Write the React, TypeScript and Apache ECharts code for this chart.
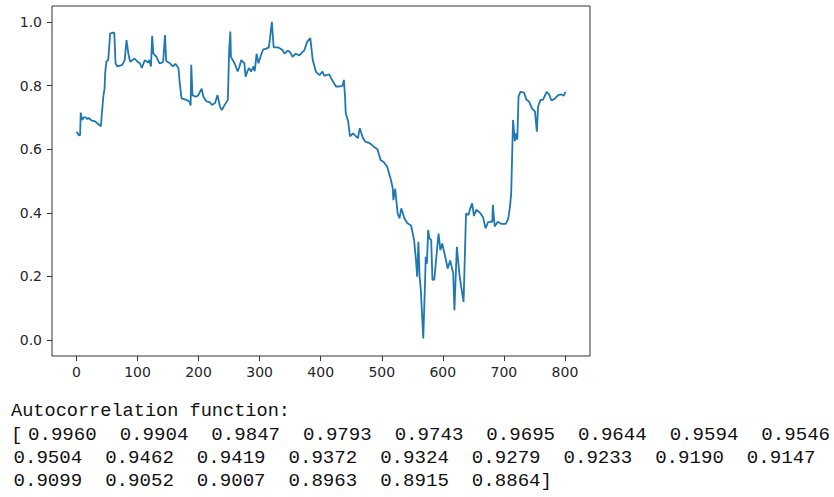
import React, { useEffect, useRef } from "react";
import * as echarts from "echarts";

// sample positions (x index) and normalised values
const sampleIndex = [
  0, 2, 4, 6, 7, 9, 12, 15, 18, 20, 25, 30, 35, 40, 42, 44, 46, 47, 49, 52, 54, 55, 60, 62, 64, 67, 70, 75, 79, 82,
  85, 88, 92, 95, 100, 104, 107, 110, 112, 117, 119, 122, 124, 126, 131, 136, 140, 142, 145, 147, 153, 158, 162, 167,
  169, 172, 180, 185, 187, 188, 190, 195, 199, 205, 208, 213, 218, 222, 227, 231, 235, 238, 243, 248, 250, 252, 253,
  256, 259, 264, 267, 270, 275, 277, 280, 283, 286, 290, 292, 295, 298, 303, 306, 311, 315, 317, 320, 323, 330, 335,
  338, 341, 346, 350, 354, 359, 365, 370, 373, 378, 383, 387, 392, 398, 403, 406, 409, 414, 417, 421, 425, 431, 436,
  438, 440, 441, 445, 448, 453, 458, 461, 464, 469, 473, 479, 483, 487, 493, 498, 503, 509, 515, 518, 519, 522, 526,
  529, 532, 537, 542, 548, 553, 556, 558, 560, 562, 564, 568, 571, 572, 574, 576, 578, 581, 583, 586, 590, 593, 596,
  599, 603, 608, 612, 617, 619, 623, 627, 630, 634, 638, 642, 645, 648, 651, 655, 661, 666, 670, 674, 677, 681, 682,
  685, 690, 696, 703, 707, 710, 712, 715, 718, 720, 722, 724, 727, 733, 737, 741, 746, 751, 754, 756, 760, 764, 770,
  774, 778, 783, 789, 794, 798, 801,
];
const seriesValues = [
  0.655, 0.65, 0.643, 0.645, 0.715, 0.692, 0.7, 0.7, 0.695, 0.698, 0.69, 0.688, 0.68, 0.672, 0.72, 0.765, 0.79, 0.838,
  0.875, 0.88, 0.93, 0.963, 0.966, 0.966, 0.87, 0.86, 0.862, 0.865, 0.88, 0.943, 0.9, 0.875, 0.88, 0.885, 0.875, 0.87,
  0.855, 0.87, 0.88, 0.872, 0.88, 0.86, 0.956, 0.9, 0.89, 0.87, 0.872, 0.875, 0.959, 0.877, 0.87, 0.86, 0.868, 0.855,
  0.812, 0.76, 0.755, 0.75, 0.737, 0.865, 0.77, 0.765, 0.768, 0.79, 0.765, 0.75, 0.748, 0.739, 0.745, 0.77, 0.734,
  0.723, 0.74, 0.755, 0.907, 0.97, 0.89, 0.88, 0.87, 0.844, 0.86, 0.88, 0.87, 0.828, 0.845, 0.855, 0.844, 0.86, 0.845,
  0.9, 0.87, 0.9, 0.914, 0.916, 0.92, 0.949, 1.0, 0.92, 0.92, 0.915, 0.91, 0.9, 0.91, 0.905, 0.89, 0.9, 0.895, 0.905,
  0.91, 0.938, 0.949, 0.88, 0.844, 0.833, 0.844, 0.83, 0.833, 0.835, 0.823, 0.81, 0.797, 0.797, 0.8, 0.818, 0.76,
  0.713, 0.687, 0.64, 0.65, 0.64, 0.635, 0.666, 0.636, 0.624, 0.62, 0.615, 0.608, 0.6, 0.566, 0.56, 0.545, 0.503,
  0.477, 0.44, 0.475, 0.398, 0.383, 0.414, 0.383, 0.367, 0.36, 0.314, 0.252, 0.199, 0.309, 0.199, 0.157, 0.005, 0.189,
  0.262, 0.24, 0.346, 0.32, 0.314, 0.189, 0.19, 0.273, 0.335, 0.283, 0.304, 0.27, 0.225, 0.25, 0.21, 0.094, 0.293,
  0.21, 0.168, 0.12, 0.398, 0.393, 0.414, 0.43, 0.39, 0.41, 0.4, 0.385, 0.351, 0.37, 0.372, 0.372, 0.425, 0.357, 0.372,
  0.365, 0.365, 0.38, 0.419, 0.461, 0.692, 0.625, 0.65, 0.63, 0.765, 0.78, 0.778, 0.755, 0.75, 0.728, 0.718, 0.655,
  0.734, 0.755, 0.755, 0.78, 0.772, 0.753, 0.758, 0.77, 0.772, 0.768, 0.78,
];

const xTicks = [0, 100, 200, 300, 400, 500, 600, 700, 800];
const yTicks = [0.0, 0.2, 0.4, 0.6, 0.8, 1.0];

const outputTitle = "Autocorrelation function:";
const acfValues = [
  "0.9960", "0.9904", "0.9847", "0.9793", "0.9743", "0.9695", "0.9644", "0.9594", "0.9546",
  "0.9504", "0.9462", "0.9419", "0.9372", "0.9324", "0.9279", "0.9233", "0.9190", "0.9147",
  "0.9099", "0.9052", "0.9007", "0.8963", "0.8915", "0.8864",
];

export default function App() {
  const ref = useRef<HTMLDivElement>(null);
  useEffect(() => {
    document.body.style.margin = "0";
    const chart = echarts.init(ref.current!, null, { renderer: "svg" });
    const data = sampleIndex.map((x, i) => [x, seriesValues[i]]);
    const xLo = Math.min(...sampleIndex);
    const xHi = Math.max(...sampleIndex);
    const pad = (xHi - xLo) * 0.05;

    const monoTitle = '18.6px "Liberation Mono", "DejaVu Sans Mono", monospace';
    const mono = '19.1px "Liberation Mono", "DejaVu Sans Mono", monospace';
    const row1 = acfValues.slice(0, 9).join("  ");
    const row2 = acfValues.slice(9, 18).join("  ");
    const row3 = acfValues.slice(18).join("  ") + "]";

    chart.setOption({
      animation: false,
      backgroundColor: "#fff",
      grid: {
        left: 52,
        top: 6,
        width: 538,
        height: 350,
        show: true,
        borderColor: "#333",
        borderWidth: 1,
        containLabel: false,
      },
      xAxis: {
        type: "value",
        min: xLo - pad,
        max: xHi + pad,
        splitLine: { show: false },
        axisLine: { show: false, onZero: false },
        axisTick: { show: true, length: 5, lineStyle: { color: "#333" }, customValues: xTicks },
        axisLabel: {
          customValues: xTicks,
          margin: 9,
          color: "#262626",
          fontFamily: "DejaVu Sans",
          fontSize: 14,
          formatter: (v: number) => String(Math.round(v)),
        },
      },
      yAxis: {
        type: "value",
        min: -0.05,
        max: 1.05,
        splitLine: { show: false },
        axisLine: { show: false, onZero: false },
        axisTick: { show: true, length: 5, lineStyle: { color: "#333" }, customValues: yTicks },
        axisLabel: {
          customValues: yTicks,
          margin: 10,
          color: "#262626",
          fontFamily: "DejaVu Sans",
          fontSize: 14,
          formatter: (v: number) => v.toFixed(1),
        },
      },
      series: [
        {
          type: "line",
          data,
          showSymbol: false,
          lineStyle: { color: "#1f77b4", width: 1.8 },
          itemStyle: { color: "#1f77b4" },
        },
      ],
      graphic: [
        { type: "text", x: 11, y: 411, style: { text: outputTitle, font: monoTitle, fill: "#111", verticalAlign: "middle" } },
        { type: "text", x: 11, y: 435, style: { text: "[", font: mono, fill: "#111", verticalAlign: "middle" } },
        { type: "text", x: 28, y: 435, style: { text: row1, font: mono, fill: "#111", verticalAlign: "middle" } },
        { type: "text", x: 13.5, y: 458, style: { text: row2, font: mono, fill: "#111", verticalAlign: "middle" } },
        { type: "text", x: 13.5, y: 481, style: { text: row3, font: mono, fill: "#111", verticalAlign: "middle" } },
      ],
    });
    return () => chart.dispose();
  }, []);
  return <div ref={ref} style={{ width: 834, height: 497 }} />;
}
